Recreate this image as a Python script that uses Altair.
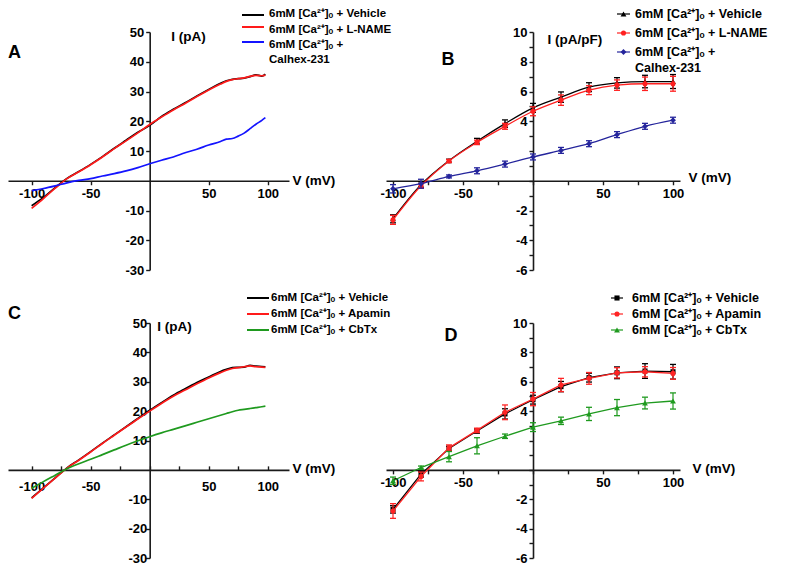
import altair as alt
import pandas as pd

# ----------------------------- data ---------------------------------
# Panels A and C: voltage-ramp current traces (pA)
ramp_v = [-100, -90, -80, -70, -60, -50, -40, -30, -20, -10, 0, 10, 20, 30, 40,
          50, 60, 65, 70, 75, 80, 85, 90, 95, 98]

a_vehicle = [-8.4, -5.6, -2.3, 0.8, 3.1, 5.5, 8.1, 10.9, 13.6, 16.3, 18.6, 21.6, 24.0,
             26.2, 28.5, 30.7, 32.8, 33.6, 34.1, 34.3, 34.5, 35.0, 35.6, 35.2, 35.8]
a_lname = [-9.3, -6.0, -2.5, 0.7, 3.0, 5.4, 8.0, 10.8, 13.4, 16.1, 18.9, 21.4, 23.8,
           26.0, 28.3, 30.5, 32.5, 33.4, 34.0, 34.3, 34.6, 35.1, 35.4, 35.3, 35.5]
a_calhex = [-3.3, -2.6, -1.7, -0.7, 0.1, 0.7, 1.6, 2.4, 3.3, 4.4, 5.7, 6.9, 8.0,
            9.4, 10.6, 12.0, 13.2, 14.0, 14.2, 15.0, 16.0, 17.5, 19.0, 20.3, 21.2]

c_vehicle = [-9.5, -6.1, -2.7, 0.7, 3.4, 6.2, 9.1, 11.9, 14.7, 17.5, 20.3, 22.9, 25.4,
             27.6, 29.7, 31.6, 33.5, 34.2, 34.8, 34.9, 35.0, 35.6, 35.3, 35.2, 35.1]
c_apamin = [-9.7, -6.2, -2.8, 0.6, 3.3, 6.1, 9.0, 11.8, 14.6, 17.3, 20.0, 22.6, 25.1,
            27.2, 29.3, 31.3, 33.1, 33.9, 34.5, 34.8, 35.1, 35.4, 35.1, 35.0, 34.9]
c_cbtx = [-6.3, -4.0, -1.8, 0.4, 2.1, 3.6, 5.2, 6.8, 8.4, 9.9, 11.3, 12.6, 13.8,
          15.0, 16.2, 17.4, 18.6, 19.2, 19.8, 20.3, 20.6, 20.9, 21.2, 21.5, 21.7]

# Panels B and D: current density (pA/pF), mean and error
step_v = [-100, -80, -60, -40, -20, 0, 20, 40, 60, 80, 100]

b_vehicle = [-2.56, -0.27, 1.35, 2.65, 3.84, 4.90, 5.62, 6.29, 6.58, 6.67, 6.67]
b_vehicle_err = [0.27, 0.20, 0.10, 0.20, 0.25, 0.30, 0.35, 0.30, 0.35, 0.42, 0.47]
b_lname = [-2.63, -0.34, 1.33, 2.58, 3.66, 4.67, 5.42, 6.09, 6.43, 6.52, 6.52]
b_lname_err = [0.30, 0.15, 0.10, 0.15, 0.20, 0.30, 0.35, 0.30, 0.35, 0.45, 0.50]
b_calhex = [-0.54, -0.20, 0.29, 0.67, 1.12, 1.60, 2.04, 2.49, 3.10, 3.66, 4.07]
b_calhex_err = [0.28, 0.30, 0.10, 0.20, 0.20, 0.20, 0.20, 0.20, 0.20, 0.20, 0.20]

d_vehicle = [-2.69, -0.29, 1.46, 2.65, 3.81, 4.78, 5.67, 6.28, 6.61, 6.73, 6.68]
d_vehicle_err = [0.25, 0.20, 0.15, 0.15, 0.35, 0.30, 0.35, 0.30, 0.40, 0.50, 0.50]
d_apamin = [-2.80, -0.45, 1.50, 2.69, 3.92, 4.82, 5.78, 6.23, 6.61, 6.68, 6.57]
d_apamin_err = [0.50, 0.30, 0.20, 0.15, 0.50, 0.45, 0.45, 0.40, 0.35, 0.35, 0.40]
d_cbtx = [-0.74, 0.16, 0.90, 1.64, 2.29, 2.91, 3.34, 3.81, 4.24, 4.55, 4.69]
d_cbtx_err = [0.25, 0.10, 0.35, 0.55, 0.15, 0.30, 0.25, 0.45, 0.55, 0.40, 0.55]

# Labels
ca = "6mM [Ca²⁺]ₒ"
ab_names = [ca + " + Vehicle", ca + " + L-NAME", ca + " +\nCalhex-231"]
cd_names = [ca + " + Vehicle", ca + " + Apamin", ca + " + CbTx"]
panel_letters = ["A", "B", "C", "D"]
x_title = "V (mV)"
y_titles = ["I (pA)", "I (pA/pF)", "I (pA)", ""]

# ----------------------------- style ---------------------------------
FONT = "Liberation Sans"
INK = "#1a1a1a"
a_colors = ["#000000", "#ff1a1a", "#1414ff"]
b_colors = ["#000000", "#ff2020", "#25259c"]
c_colors = ["#000000", "#ff1a1a", "#1f9a1f"]
d_colors = ["#000000", "#ff2424", "#1f9a1f"]
b_shapes = ["triangle-up", "circle", "diamond"]
d_shapes = ["square", "circle", "triangle-up"]
CAP = "M-1,0L1,0"


def label_expr(shown):
    arr = "[" + ",".join(str(s) for s in shown) + "]"
    return f"indexof({arr}, datum.value) >= 0 ? toString(datum.value) : ''"


def axis(**kw):
    base = dict(grid=False, domainColor=INK, domainWidth=1.6, tickColor=INK, tickWidth=1.4,
                labelFont=FONT, labelFontWeight="bold", labelFontSize=13, labelColor="#000",
                labelOverlap=False, labelFlush=False, titleFont=FONT, titleFontWeight="bold",
                titleFontSize=13.5, titleColor="#000", titleAngle=0, titleAlign="left",
                titleBaseline="middle")
    base.update(kw)
    return alt.Axis(**base)


def encoders(xdom, ydom, w, h, xticks, xlabels, yticks, ylabels, xt, yt, ytitle,
             ylabpad=2, ticks_up=False):
    x0 = w * (0 - xdom[0]) / (xdom[1] - xdom[0])
    y0 = h * (ydom[1] - 0) / (ydom[1] - ydom[0])
    if ticks_up:
        # axis drawn from the top side so that its ticks point upward; labels kept below
        xa = axis(orient="top", values=xticks, labelExpr=label_expr(xlabels), offset=-y0,
                  tickSize=4, labelBaseline="top", labelPadding=-15,
                  title=x_title, titleX=xt[0], titleY=xt[1])
    else:
        xa = axis(values=xticks, labelExpr=label_expr(xlabels), offset=-(h - y0), tickSize=4,
                  labelPadding=3, title=x_title, titleX=xt[0], titleY=xt[1])
    ya = axis(values=yticks, labelExpr=label_expr(ylabels), offset=-x0, tickSize=4,
              labelPadding=ylabpad, title=ytitle, titleX=yt[0], titleY=yt[1])
    xs = alt.Scale(domain=xdom, nice=False, zero=False)
    ys = alt.Scale(domain=ydom, nice=False, zero=False)

    def X(f):
        return alt.X(f, type="quantitative", scale=xs, axis=xa)

    def Y(f):
        return alt.Y(f, type="quantitative", scale=ys, axis=ya)
    return X, Y


def one(col, val):
    return alt.Chart(pd.DataFrame({col: [val]}))


def text_layer(label, x, y, size, align="left"):
    return one("t", label).mark_text(align=align, baseline="middle", font=FONT, fontWeight="bold",
                                     fontSize=size, lineBreak="\n", lineHeight=size + 3,
                                     color="#000").encode(x=alt.value(x), y=alt.value(y), text="t:N")


def rule_layer(x1, x2, y, color, width):
    return one("k", 0).mark_rule(color=color, strokeWidth=width).encode(
        x=alt.value(x1), x2=alt.value(x2), y=alt.value(y))


def marker_layer(x, y, shape, color, size):
    return one("k", 0).mark_point(shape=shape, filled=True, size=size, color=color, opacity=1).encode(
        x=alt.value(x), y=alt.value(y))


def trace_layers(v, series, colors, X, Y):
    out = []
    for vals, col in zip(series, colors):
        df = pd.DataFrame({"v": v, "i": vals})
        out.append(alt.Chart(df).mark_line(color=col, strokeWidth=1.7, interpolate="monotone")
                   .encode(x=X("v"), y=Y("i")))
    return out


def mean_layers(v, means, errs, colors, shapes, sizes, X, Y, interp):
    out = []
    for m, e, col, shp, sz in zip(means, errs, colors, shapes, sizes):
        df = pd.DataFrame({"v": v, "i": m,
                           "lo": [a - b for a, b in zip(m, e)],
                           "hi": [a + b for a, b in zip(m, e)]})
        base = alt.Chart(df)
        out += [
            base.mark_line(color=col, strokeWidth=1.3, interpolate=interp).encode(x=X("v"), y=Y("i")),
            base.mark_rule(color=col, strokeWidth=1.2).encode(x=X("v"), y=Y("lo"), y2=alt.Y2("hi")),
            base.mark_point(shape=CAP, size=36, filled=False, color=col, strokeWidth=1.3,
                            opacity=1).encode(x=X("v"), y=Y("lo")),
            base.mark_point(shape=CAP, size=36, filled=False, color=col, strokeWidth=1.3,
                            opacity=1).encode(x=X("v"), y=Y("hi")),
            base.mark_point(shape=shp, size=sz, filled=True, color=col, opacity=1).encode(
                x=X("v"), y=Y("i")),
        ]
    return out


# ----------------------------- panels ---------------------------------
WL, WR, HT, HB = 281, 294, 238, 235
x_left = [-120, 118]
x_right = [-105, 105]
y_pa = [-30, 50]
y_dens = [-6, 10]
tick25 = list(range(-100, 101, 25))
lab50 = [-100, -50, 50, 100]
pa_ticks = [-30, -20, -10, 10, 20, 30, 40, 50]
dens_ticks = list(range(-6, 11))
dens_labels = [-6, -4, -2, 4, 6, 8, 10]

# A
X, Y = encoders(x_left, y_pa, WL, HT, lab50, lab50, pa_ticks, pa_ticks,
                (WL + 3, 0), (21, 4), y_titles[0])
layers = trace_layers(ramp_v, [a_vehicle, a_lname, a_calhex], a_colors, X, Y)
for k, (ty, ly) in enumerate(zip([-18, -2, 13], [-17, -5, 10])):
    layers.append(rule_layer(234, 256, ly, a_colors[k], 2))
    layers.append(text_layer(ab_names[k], 261, ty, 11.5))
layers.append(text_layer(panel_letters[0], 0, 21, 18))
panel_a = alt.layer(*layers).properties(width=WL, height=HT)

# B
X, Y = encoders(x_right, y_dens, WR, HT, tick25, lab50, dens_ticks, dens_labels,
                (WR + 8, -3), (14, 7), y_titles[1])
layers = mean_layers(step_v, [b_vehicle, b_lname, b_calhex],
                     [b_vehicle_err, b_lname_err, b_calhex_err],
                     b_colors, b_shapes, [34, 26, 34], X, Y, "monotone")
for k, ty in enumerate([-18, 1, 20]):
    layers.append(rule_layer(231, 244, ty, b_colors[k], 1.2))
    layers.append(marker_layer(237.5, ty, b_shapes[k], b_colors[k], [34, 26, 34][k]))
    layers.append(text_layer(ab_names[k], 249, ty, 12.5))
layers.append(text_layer(panel_letters[1], 62, 28, 18, "center"))
panel_b = alt.layer(*layers).properties(width=WR, height=HT)

# C
X, Y = encoders(x_left, y_pa, WL, HB, tick25, lab50, pa_ticks, pa_ticks,
                (WL + 3, -1), (7, 3), y_titles[2], ylabpad=-1, ticks_up=True)
layers = trace_layers(ramp_v, [c_vehicle, c_apamin, c_cbtx], c_colors, X, Y)
for k, ty in enumerate([-25, -9, 7]):
    layers.append(rule_layer(239, 261, ty, c_colors[k], 2))
    layers.append(text_layer(cd_names[k], 263, ty, 11.5))
layers.append(text_layer(panel_letters[2], 0, -9, 18))
panel_c = alt.layer(*layers).properties(width=WL, height=HB)

# D
X, Y = encoders(x_right, y_dens, WR, HB, tick25, lab50, dens_ticks, dens_labels,
                (WR + 12, -1), (14, 7), y_titles[3])
layers = mean_layers(step_v, [d_vehicle, d_apamin, d_cbtx],
                     [d_vehicle_err, d_apamin_err, d_cbtx_err],
                     d_colors, d_shapes, [26, 26, 34], X, Y, "linear")
for k, ty in enumerate([-25, -9, 7]):
    layers.append(rule_layer(225, 237, ty, d_colors[k], 1.2))
    layers.append(marker_layer(231, ty, d_shapes[k], d_colors[k], [26, 26, 34][k]))
    layers.append(text_layer(cd_names[k], 246, ty, 12.5))
layers.append(text_layer(panel_letters[3], 65, 13, 18, "center"))
panel_d = alt.layer(*layers).properties(width=WR, height=HB)

chart = (alt.concat(panel_a, panel_b, panel_c, panel_d, columns=2,
                    spacing={"row": 53, "column": 97}, bounds="flush")
         .properties(padding=0)
         .configure_view(stroke=None))

chart.save("out.html", embed_options={"renderer": "svg", "actions": False})
